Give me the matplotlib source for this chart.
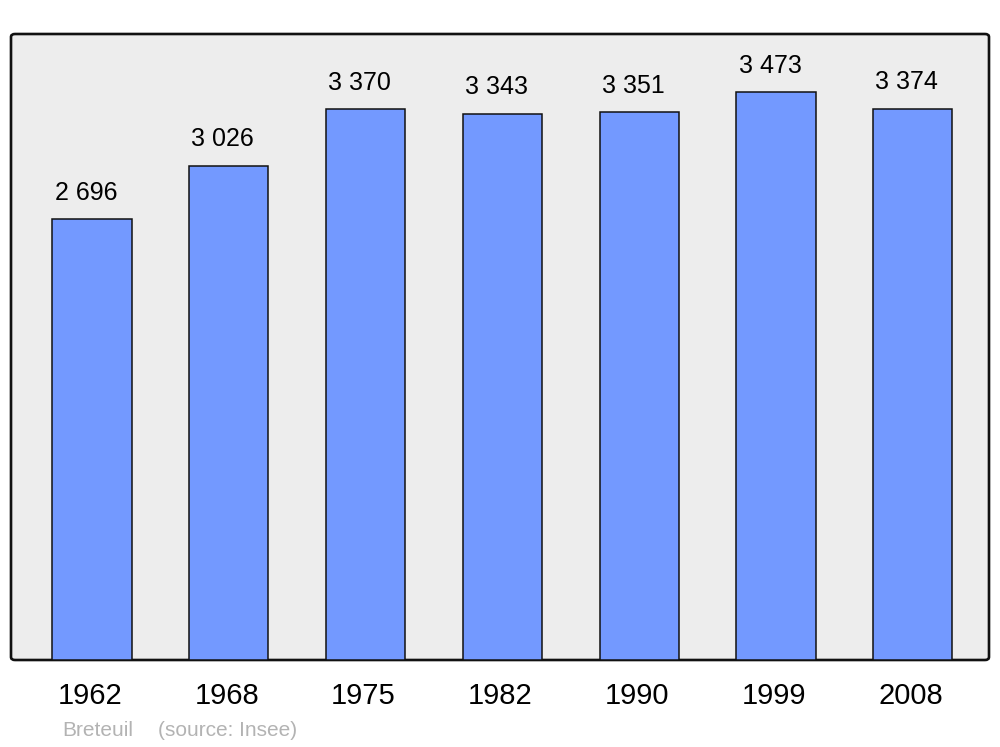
import matplotlib.pyplot as plt
import matplotlib.transforms as mtransforms
from matplotlib.patches import FancyBboxPatch

years = ["1962", "1968", "1975", "1982", "1990", "1999", "2008"]
population = [2696, 3026, 3370, 3343, 3351, 3473, 3374]
labels = ["2 696", "3 026", "3 370", "3 343", "3 351", "3 473", "3 374"]

plt.rcParams['font.family'] = ['Liberation Sans', 'DejaVu Sans']

W, H = 1000, 747
fig = plt.figure(figsize=(W / 100, H / 100), dpi=100)

# rounded gray frame behind the axes
frame = FancyBboxPatch((11 / W, 1 - 660 / H), 978 / W, 626 / H,
                       boxstyle="round,pad=0,rounding_size=0.004",
                       transform=fig.transFigure, facecolor='#ededed',
                       edgecolor='#111111', linewidth=1.9, zorder=-1)
fig.patches.append(frame)

ax = fig.add_axes([11 / W, 1 - 660 / H, 978 / W, 626 / H])
ax.patch.set_visible(False)

x = list(range(len(years)))
ax.bar(x, population, width=0.58, color='#7399ff', edgecolor='#111111',
       linewidth=1.1, zorder=2)

for xi, v, lab in zip(x, population, labels):
    ax.annotate(lab, (xi, v), xytext=(-4.3, 19), textcoords='offset points',
                ha='center', va='center', fontsize=18, color='black')

ax.set_xlim(-0.592, 6.557)
ax.set_ylim(0, 3831)
for s in ax.spines.values():
    s.set_visible(False)
ax.set_yticks([])
ax.set_xticks(x)
ax.set_xticklabels(years, fontsize=21)
ax.tick_params(axis='x', length=0, pad=16)
shift = mtransforms.ScaledTranslation(-2 / 100, 0, fig.dpi_scale_trans)
for t in ax.get_xticklabels():
    t.set_transform(t.get_transform() + shift)

fig.text(62 / W, 1 - 730 / H, "Breteuil", color='#b3b3b3', fontsize=15,
         va='center', ha='left')
fig.text(158 / W, 1 - 730 / H, "(source: Insee)", color='#b3b3b3',
         fontsize=15, va='center', ha='left')

fig.savefig('out.png', dpi=100)
